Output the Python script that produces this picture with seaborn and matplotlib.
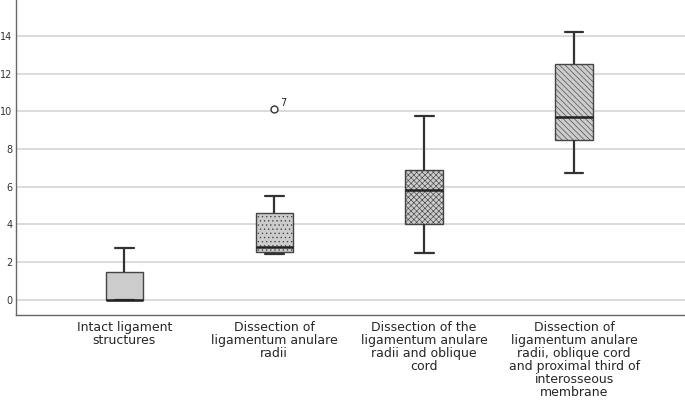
import matplotlib
matplotlib.use("Agg")
import matplotlib.pyplot as plt
import pandas as pd
import seaborn as sns

# group labels (wrapped as in the original)
categories = [
    "Intact ligament\nstructures",
    "Dissection of\nligamentum anulare\nradii",
    "Dissection of the\nligamentum anulare\nradii and oblique\ncord",
    "Dissection of\nligamentum anulare\nradii, oblique cord\nand proximal third of\ninterosseous\nmembrane",
]

# values read off the boxes (min, q1, median, q3, max plus in-between estimates)
intact = [0.0, 0.0, 0.0, 0.0, 0.0, 0.8, 1.48, 2.1, 2.75]
annular = [2.44, 2.5, 2.55, 2.7, 2.81, 4.0, 4.61, 5.51, 10.13]
annular_oblique = [2.51, 3.5, 4.01, 5.2, 5.83, 6.4, 6.88, 8.2, 9.74]
annular_oblique_membrane = [6.72, 7.9, 8.48, 9.2, 9.69, 11.0, 12.5, 13.4, 14.2]

outlier_label = "7"
outlier_value = 10.13

hatches = ["", "....", "xxxxxx", "\\\\\\\\\\\\"]

groups = [intact, annular, annular_oblique, annular_oblique_membrane]
df = pd.DataFrame({
    "group": [c for c, g in zip(categories, groups) for _ in g],
    "value": [v for g in groups for v in g],
})

sns.set_style("white")
plt.rcParams["font.family"] = ["DejaVu Sans"]
plt.rcParams["hatch.linewidth"] = 0.45

fig, ax = plt.subplots(figsize=(6.85, 4), dpi=100)
fig.subplots_adjust(left=0.024, right=1.0, top=1.0, bottom=0.2125)

sns.boxplot(
    data=df, x="group", y="value", order=categories,
    color="#cccccc", saturation=1, width=0.25,
    linecolor="#444444", linewidth=1.0, whis=1.5,
    whiskerprops=dict(color="#333333", linewidth=1.6),
    capprops=dict(color="#333333", linewidth=1.6),
    flierprops=dict(marker="o", markerfacecolor="white",
                    markeredgecolor="#333333", markersize=5),
    medianprops=dict(color="#222222", linewidth=1.8),
    ax=ax,
)

for patch, h in zip(ax.patches, hatches):
    patch.set_hatch(h)

ax.text(1.04, outlier_value + 0.15, outlier_label, fontsize=7, color="#222222")

ax.set_ylim(-0.8, 15.9)
ax.set_xlim(-0.72, 3.74)
ax.set_yticks(range(0, 16, 2))
ax.yaxis.grid(True, color="#d4d4d4", linewidth=1.2)
ax.set_axisbelow(True)
ax.set_xlabel("")
ax.set_ylabel("")
ax.tick_params(axis="y", length=0, labelsize=7, pad=3, labelcolor="#333333")
ax.tick_params(axis="x", length=0, labelsize=9, pad=4)
for lbl in ax.get_xticklabels():
    lbl.set_linespacing(1.0)

sns.despine(ax=ax)
for side in ["left", "bottom"]:
    ax.spines[side].set_color("#666666")
    ax.spines[side].set_linewidth(1)

plt.savefig("out.png", dpi=100)
